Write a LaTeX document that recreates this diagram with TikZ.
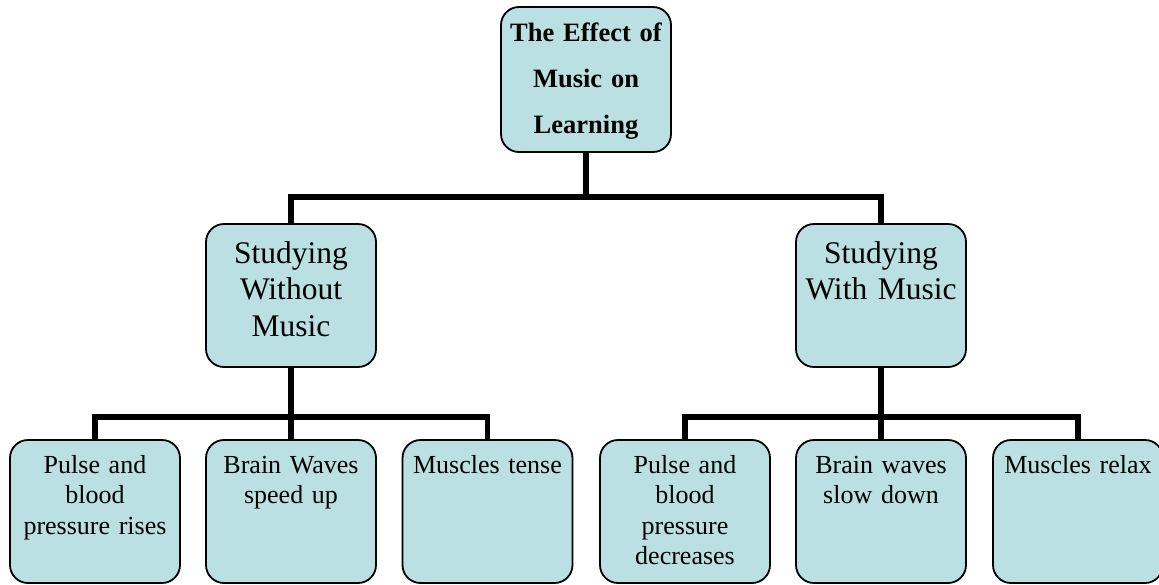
\documentclass[tikz,border=0pt]{standalone}
\usepackage{fontspec}
\setmainfont{Liberation Serif}
\usepackage{xcolor}
\usepackage{tikz}
\usetikzlibrary{positioning, calc}
\definecolor{boxfill}{RGB}{186,224,228}

\begin{document}
\begin{tikzpicture}[
    x=1pt, y=-1pt,
    box/.style={draw=black, line width=1.8pt, fill=boxfill, rounded corners=18pt,
        text width=170pt, align=center, inner sep=0pt},
    topbox/.style={box, font=\bfseries\fontsize{26.5}{46}\selectfont, text height=34pt, text depth=111pt},
    midbox/.style={box, font=\fontsize{31.5}{36.5}\selectfont, text height=39pt, text depth=104pt},
    leafbox/.style={box, font=\fontsize{26}{30.5}\selectfont, text height=33pt, text depth=110pt},
    link/.style={line width=5.5pt},
]
    \useasboundingbox (0,0) rectangle (1159,584);

    % Title
    \node[topbox] (root) at (586,79.5) {The Effect of\\Music on\\Learning};

    % Two ways of studying
    \node[midbox] (midL) at (291,295.5) {Studying\\Without\\Music};
    \node[midbox] (midR) at (881,295.5) {Studying\\With Music};

    % Effects
    \node[leafbox] (leafA) at (95,511.5) {Pulse and\\blood\\pressure rises};
    \node[leafbox] (leafB) at (291,511.5) {Brain Waves\\speed up};
    \node[leafbox] (leafC) at (487.5,511.5) {Muscles tense};
    \node[leafbox] (leafD) at (685,511.5) {Pulse and\\blood\\pressure\\decreases};
    \node[leafbox] (leafE) at (881,511.5) {Brain waves\\slow down};
    \node[leafbox] (leafF) at (1078,511.5) {Muscles relax};

    % Connectors
    \coordinate (busTop) at (586,197);
    \coordinate (busL) at (291,417);
    \coordinate (busR) at (881,417);
    \draw[link] (root.south) -- (busTop);
    \draw[link] (midL.north) |- (busTop) -| (midR.north);
    \draw[link] (midL.south) -- (leafB.north);
    \draw[link] (leafA.north) |- (busL) -| (leafC.north);
    \draw[link] (midR.south) -- (leafE.north);
    \draw[link] (leafD.north) |- (busR) -| (leafF.north);
\end{tikzpicture}
\end{document}
